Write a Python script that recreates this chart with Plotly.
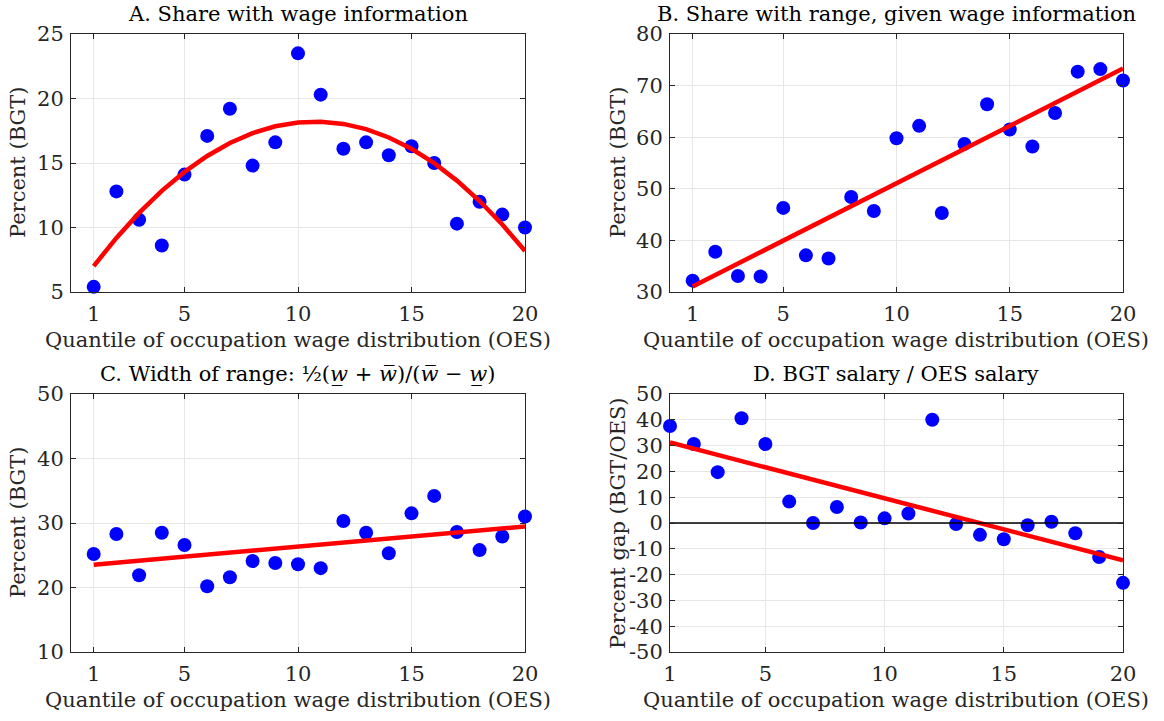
import numpy as np
import plotly.graph_objects as go

quantiles = list(range(1, 21))

share_wage_info = [5.4, 12.8, 10.6, 8.6, 14.1, 17.1, 19.2, 14.8, 16.6, 23.5,
                   20.3, 16.1, 16.6, 15.6, 16.3, 15.0, 10.3, 12.0, 11.0, 10.0]
share_range = [32.2, 37.8, 33.1, 33.0, 46.3, 37.1, 36.5, 48.4, 45.7, 59.8,
               62.2, 45.3, 58.7, 66.4, 61.5, 58.2, 64.7, 72.7, 73.2, 71.0]
width_range = [25.2, 28.3, 21.9, 28.5, 26.6, 20.2, 21.6, 24.1, 23.8, 23.6,
               23.0, 30.3, 28.5, 25.3, 31.5, 34.2, 28.6, 25.8, 27.9, 31.0]
salary_gap = [37.6, 30.6, 19.7, 40.6, 30.6, 8.3, 0.0, 6.2, 0.2, 1.8,
              3.7, 40.0, -0.4, -4.6, -6.3, -0.9, 0.5, -4.0, -13.2, -23.2]

titles = ["A. Share with wage information",
          "B. Share with range, given wage information",
          "C. Width of range: \u00bd(<i>w\u0332</i> + <i>w\u0305</i>)/(<i>w\u0305</i> \u2212 <i>w\u0332</i>)",
          "D. BGT salary / OES salary"]
ylabels = ["Percent (BGT)", "Percent (BGT)", "Percent (BGT)", "Percent gap (BGT/OES)"]
xlabel = "Quantile of occupation wage distribution (OES)"
x_ticks = [1, 5, 10, 15, 20]
y_ticks = [[5, 10, 15, 20, 25], [30, 40, 50, 60, 70, 80], [10, 20, 30, 40, 50],
           [-50, -40, -30, -20, -10, 0, 10, 20, 30, 40, 50]]
fit_degree = [2, 1, 1, 1]

series = [share_wage_info, share_range, width_range, salary_gap]
x_ranges = [[0, 20], [0, 20], [0, 20], [1, 20]]

W, H = 1164, 721
boxes = [(71, 525, 34, 292), (670, 1123, 34, 292), (71, 525, 394, 652), (670, 1123, 394, 652)]
ylabel_x = [18, 618, 18, 618]

FONT = "DejaVu Serif"
FS = 21
TXT = "#262626"
fig = go.Figure()

for i, ys in enumerate(series):
    n = i + 1
    xa = "x" if n == 1 else f"x{n}"
    ya = "y" if n == 1 else f"y{n}"
    x = np.array(quantiles, dtype=float)
    coef = np.polyfit(x, np.array(ys), fit_degree[i])
    fit = np.polyval(coef, x)
    fig.add_trace(go.Scatter(x=quantiles, y=ys, mode="markers", xaxis=xa, yaxis=ya,
                             marker=dict(color="#0000ff", size=14, line=dict(width=0)),
                             cliponaxis=False, showlegend=False))
    fig.add_trace(go.Scatter(x=quantiles, y=fit.tolist(), mode="lines", xaxis=xa, yaxis=ya,
                             line=dict(color="#ff0000", width=4.5), showlegend=False))
    l, r, t, b = boxes[i]
    xd = [l / W, r / W]
    yd = [1 - b / H, 1 - t / H]
    yt = y_ticks[i]
    common = dict(showline=True, linecolor=TXT, linewidth=1, mirror="ticks",
                  ticks="inside", ticklen=5, tickcolor=TXT, showgrid=True,
                  gridcolor="#e6e6e6", gridwidth=1, zeroline=False, automargin=False,
                  tickfont=dict(family=FONT, size=FS, color=TXT))
    fig.layout[f"xaxis{'' if n == 1 else n}"] = dict(
        domain=xd, anchor=ya, range=x_ranges[i], tickvals=x_ticks,
        ticktext=[str(v) for v in x_ticks], ticklabelstandoff=3, **common)
    fig.layout[f"yaxis{'' if n == 1 else n}"] = dict(
        domain=yd, anchor=xa, range=[yt[0], yt[-1]], tickvals=yt,
        ticktext=[str(v) for v in yt], ticklabelstandoff=2, **common)
    fig.add_annotation(text=titles[i], xref="paper", yref="paper",
                       x=(xd[0] + xd[1]) / 2, y=1 - (t - 20) / H, yanchor="middle",
                       xanchor="center", showarrow=False,
                       font=dict(family=FONT, size=FS, color="#000000"))
    fig.add_annotation(text=xlabel, xref="paper", yref="paper",
                       x=(xd[0] + xd[1]) / 2, y=1 - (b + 48) / H, yanchor="middle",
                       xanchor="center", showarrow=False,
                       font=dict(family=FONT, size=FS, color=TXT))
    fig.add_annotation(text=ylabels[i], xref="paper", yref="paper",
                       x=ylabel_x[i] / W, y=(yd[0] + yd[1]) / 2, yanchor="middle",
                       xanchor="center", showarrow=False, textangle=-90,
                       font=dict(family=FONT, size=FS, color=TXT))

fig.add_trace(go.Scatter(x=x_ranges[3], y=[0, 0], mode="lines", xaxis="x4", yaxis="y4",
                         line=dict(color="#000000", width=1.5), showlegend=False))

fig.update_layout(width=W, height=H, margin=dict(l=0, r=0, t=0, b=0),
                  plot_bgcolor="white", paper_bgcolor="white")
fig.write_html("out.html", config={"displayModeBar": False},
               post_script="document.body.style.margin='0px';document.body.style.overflow='hidden';")
